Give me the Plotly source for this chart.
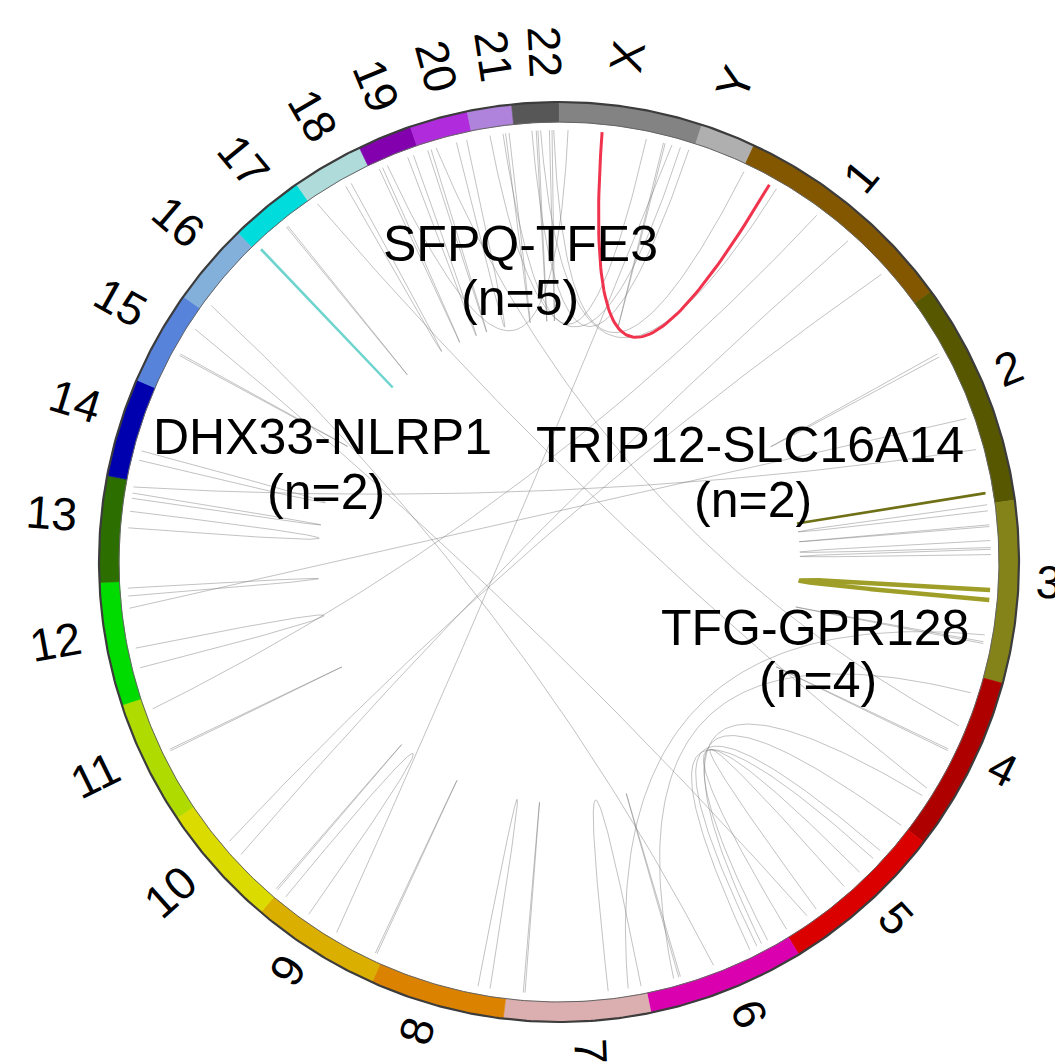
import numpy as np
import plotly.graph_objects as go

# ---------------- data ----------------
chrom_names = ["1", "2", "3", "4", "5", "6", "7", "8", "9", "10", "11", "12",
               "13", "14", "15", "16", "17", "18", "19", "20", "21", "22", "X", "Y"]
chrom_sizes_mb = [249.25, 243.20, 198.02, 191.15, 180.92, 171.12, 159.14, 146.36,
                  141.21, 135.53, 135.01, 133.85, 115.17, 107.35, 102.53, 90.35,
                  81.20, 78.08, 59.13, 63.03, 48.13, 51.30, 155.27, 59.37]
chrom_colors = [(153, 102, 0), (102, 102, 0), (153, 153, 30), (204, 0, 0),
                (255, 0, 0), (255, 0, 204), (255, 204, 204), (255, 153, 0),
                (255, 204, 0), (255, 255, 0), (204, 255, 0), (0, 255, 0),
                (53, 128, 0), (0, 0, 204), (102, 153, 255), (153, 204, 255),
                (0, 255, 255), (204, 255, 255), (153, 0, 204), (204, 51, 255),
                (204, 153, 255), (102, 102, 102), (153, 153, 153), (204, 204, 204)]

# other (grey) fusion links: chromosome / position (Mb) of both partners
other_chr_a = ["14", "13", "13", "12", "12", "11", "15", "17", "18", "18", "19", "20",
               "21", "22", "X", "X", "1", "1", "1", "2", "2", "2", "3", "3", "3", "3",
               "3", "4", "5", "5", "5", "5", "4", "5", "3", "4", "7", "7", "8", "9",
               "9", "10", "6", "16", "1", "15", "X", "20", "1", "19",
               "20", "19", "22", "X", "X"]
other_pos_a = [24, 95, 61, 117, 34, 68, 45, 44, 7, 45, 45, 44,
               38, 40, 150, 100, 3, 45, 146, 143, 180, 62, 1, 24, 42, 52,
               158, 89, 0.5, 38, 72, 96, 150, 50, 150, 20, 5, 138, 19, 8,
               98, 2, 130, 10, 200, 80, 130, 20, 100, 20,
               10, 10, 25, 120, 140]
other_chr_b = ["14", "13", "13", "12", "12", "11", "15", "17", "4", "18", "19", "20",
               "21", "22", "22", "21", "22", "22", "10", "12", "13", "2", "3", "3", "3", "3",
               "3", "4", "6", "6", "5", "5", "6", "6", "7", "6", "7", "7", "8", "9",
               "9", "10", "6", "6", "10", "5", "9", "4", "11", "X",
               "20", "19", "22", "X", "21"]
other_pos_b = [35, 101, 80, 126, 57, 70, 47, 46, 140, 52, 52, 56,
               42, 43, 20, 35, 45, 30, 60, 103, 108, 66, 8, 26, 50, 58,
               160, 91, 22, 36, 178, 137, 30, 45, 20, 138, 43, 140, 33, 10,
               131, 4, 132, 90, 80, 150, 60, 60, 120, 10,
               14, 14, 27, 122, 20]

# highlighted fusions
fusion_names = ["SFPQ-TFE3", "DHX33-NLRP1", "TRIP12-SLC16A14", "TFG-GPR128"]
fusion_counts = [5, 2, 2, 4]
fusion_chr_a = ["1", "17", "2", "3"]
fusion_pos_a = [35.6, 5.4, 230.6, 98.5]
fusion_chr_b = ["X", "17", "2", "3"]
fusion_pos_b = [48.9, 5.6, 231.0, 110.0]

# ---------------- geometry / style ----------------
W, H = 1063, 1064
CX, CY = 551, 554
R_OUT, R_IN = 460, 440
R_LINK = 432
R_CTRL = 50
START = 25.0
TOTAL = sum(chrom_sizes_mb)
DEG_PER_MB = 360.0 / TOTAL
SHADE = 0.86
FONT = "Liberation Sans, Arial, Helvetica, sans-serif"
cum = {}
acc = 0.0
for n, s in zip(chrom_names, chrom_sizes_mb):
    cum[n] = acc
    acc += s

fusion_colors = ["rgb(240,52,78)", "rgb(110,212,206)", "rgb(112,112,22)", "rgb(158,158,40)"]
fusion_widths = [3, 2.5, 2.5, 4.5]
fusion_label_pos = [((512, 236), (512, 290)),
                    ((314, 429), (318, 484)),
                    ((742, 437), (745, 492)),
                    ((807, 620), (810, 672))]


def gang(ch, pos):
    return START + (cum[ch] + pos) * DEG_PER_MB


def pt(theta, r):
    t = np.radians(theta)
    return CX + r * np.sin(t), CY - r * np.cos(t)


def link_xy(ta, tb):
    x0, y0 = pt(ta, R_LINK)
    x2, y2 = pt(tb, R_LINK)
    d = ((tb - ta + 180) % 360) - 180
    x1, y1 = pt(ta + d / 2, R_CTRL)
    t = np.linspace(0, 1, 90)
    x = (1 - t) ** 2 * x0 + 2 * (1 - t) * t * x1 + t ** 2 * x2
    y = (1 - t) ** 2 * y0 + 2 * (1 - t) * t * y1 + t ** 2 * y2
    return x, y


fig = go.Figure()

# grey links (one trace)
gx, gy = [], []
for ca, pa, cb, pb in zip(other_chr_a, other_pos_a, other_chr_b, other_pos_b):
    x, y = link_xy(gang(ca, pa), gang(cb, pb))
    gx += list(x) + [None]
    gy += list(y) + [None]
fig.add_trace(go.Scatter(x=gx, y=gy, mode="lines",
                         line=dict(color="rgba(120,120,120,0.45)", width=1),
                         hoverinfo="skip", showlegend=False))

# highlighted links
for i in range(len(fusion_names)):
    x, y = link_xy(gang(fusion_chr_a[i], fusion_pos_a[i]), gang(fusion_chr_b[i], fusion_pos_b[i]))
    fig.add_trace(go.Scatter(x=x, y=y, mode="lines",
                             line=dict(color=fusion_colors[i], width=fusion_widths[i]),
                             hoverinfo="skip", showlegend=False))

# ideogram ring
for n, s, c in zip(chrom_names, chrom_sizes_mb, chrom_colors):
    col = "rgb(%d,%d,%d)" % tuple(int(v * SHADE) for v in c)
    a0 = gang(n, 0)
    a1 = gang(n, s)
    th = np.linspace(a0, a1, max(4, int((a1 - a0) * 3)))
    xo, yo = pt(th, R_OUT)
    xi, yi = pt(th[::-1], R_IN)
    fig.add_trace(go.Scatter(x=list(xo) + list(xi) + [xo[0]], y=list(yo) + list(yi) + [yo[0]],
                             mode="lines", fill="toself", fillcolor=col,
                             line=dict(color=col, width=0.6),
                             hoverinfo="skip", showlegend=False))

thc = np.linspace(0, 360, 721)
xo, yo = pt(thc, R_OUT)
fig.add_trace(go.Scatter(x=xo, y=yo, mode="lines", line=dict(color="rgb(60,60,60)", width=2.2),
                         hoverinfo="skip", showlegend=False))
xi, yi = pt(thc, R_IN)
fig.add_trace(go.Scatter(x=xi, y=yi, mode="lines", line=dict(color="rgb(100,100,100)", width=1),
                         hoverinfo="skip", showlegend=False))

annotations = []
# chromosome labels (radial, flipped on the left half)
for n, s in zip(chrom_names, chrom_sizes_mb):
    mid = gang(n, s / 2) % 360
    if n in ("X", "Y"):
        rc = 510
    elif len(n) == 1:
        rc = 490
    else:
        rc = 510
    x, y = pt(mid, rc)
    rot = mid - 90 if mid < 180 else mid - 270
    rr = np.radians(rot)
    x += 12 * np.sin(rr)
    y -= 12 * np.cos(rr)
    annotations.append(dict(x=x, y=y, xref="x", yref="y", text=n, showarrow=False,
                            textangle=rot, xanchor="center", yanchor="middle",
                            font=dict(family=FONT, size=46, color="black")))

# fusion labels
for i, name in enumerate(fusion_names):
    (x1, y1), (x2, y2) = fusion_label_pos[i]
    annotations.append(dict(x=x1, y=y1, xref="x", yref="y", text=name, showarrow=False,
                            xanchor="center", yanchor="middle",
                            font=dict(family=FONT, size=50, color="black")))
    annotations.append(dict(x=x2, y=y2, xref="x", yref="y", text="(n=%d)" % fusion_counts[i],
                            showarrow=False, xanchor="center", yanchor="middle",
                            font=dict(family=FONT, size=50, color="black")))

fig.update_layout(width=W, height=H, margin=dict(l=0, r=0, t=0, b=0),
                  paper_bgcolor="white", plot_bgcolor="white",
                  xaxis=dict(range=[0, W], visible=False, fixedrange=True),
                  yaxis=dict(range=[H, 0], visible=False, fixedrange=True),
                  annotations=annotations, showlegend=False)

fig.write_html("out.html")
